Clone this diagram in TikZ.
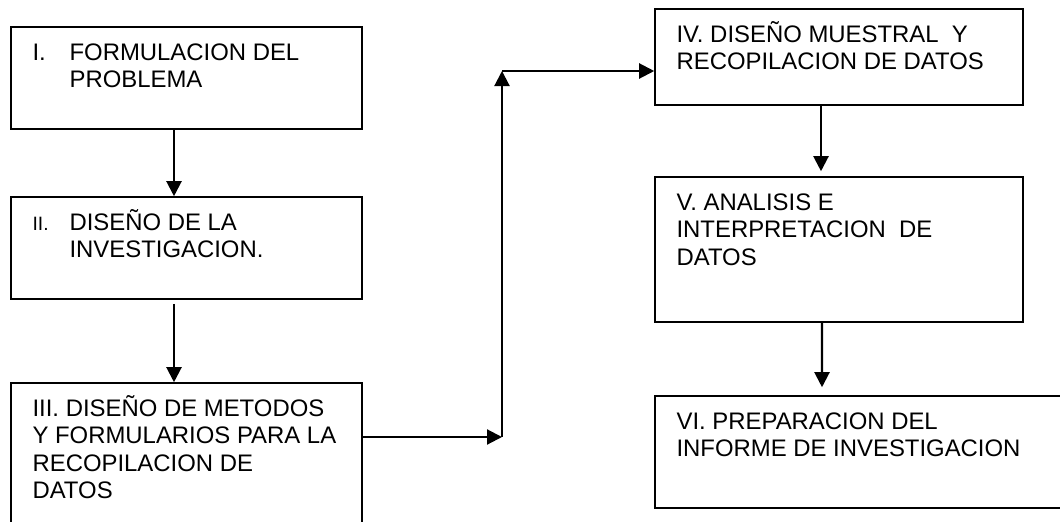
\documentclass[tikz,border=0pt]{standalone}
\usepackage{fontspec}
\setmainfont{Liberation Sans}
\usetikzlibrary{arrows.meta}
\newcommand{\etapa}[1]{\parbox[t]{9cm}{\raggedright #1}}
\tikzstyle{stage}=[rectangle,minimum width=7.02cm,draw=black,line width=0.9pt]
\tikzstyle{stagetext}=[anchor=base west,inner sep=0pt,font=\fontsize{13.6pt}{15.65pt}\selectfont]
\tikzstyle{arrow}=[line width=1.2pt,-{Triangle[length=0.3cm,width=0.3cm]}]

\begin{document}
\begin{tikzpicture}[node distance=3.4cm]
            \useasboundingbox (0,0) rectangle (21.2,-10.42);
            \clip (0,0) rectangle (21.2,-10.42);
            \node (form)[stage,minimum height=2.04cm] at (3.73,-1.56) {};
            \node (dis)[stage,minimum height=2.04cm,below of=form] {};
            \node (met)[stage,minimum height=3.14cm,below of=dis,yshift=-0.87cm] {};
            \node (mues)[stage,minimum width=7.36cm,minimum height=1.92cm] at (16.78,-1.14) {};
            \node (anal)[stage,minimum width=7.36cm,minimum height=2.9cm,below of=mues,yshift=-0.45cm] {};
            \node (prep)[stage,minimum width=8.3cm,minimum height=2.24cm,below of=anal,yshift=-0.65cm,xshift=0.47cm] {};
            % textos
            \node (formtxt)[stagetext] at ([xshift=0.44cm,yshift=-0.68cm]form.north west) {\etapa{\makebox[0.74cm][l]{I.}FORMULACION DEL\\\makebox[0.74cm]{}PROBLEMA}};
            \node (distxt)[stagetext] at ([xshift=0.44cm,yshift=-0.68cm]dis.north west) {\etapa{\makebox[0.74cm][l]{\fontsize{11pt}{13pt}\selectfont II.}DISEÑO DE LA\\\makebox[0.74cm]{}INVESTIGACION.}};
            \node (mettxt)[stagetext] at ([xshift=0.44cm,yshift=-0.68cm]met.north west) {\etapa{III. DISEÑO DE METODOS\\Y FORMULARIOS PARA LA\\RECOPILACION DE\\DATOS}};
            \node (muestxt)[stagetext] at ([xshift=0.44cm,yshift=-0.68cm]mues.north west) {\etapa{IV. DISEÑO MUESTRAL\ \ Y\\RECOPILACION DE DATOS}};
            \node (analtxt)[stagetext] at ([xshift=0.44cm,yshift=-0.68cm]anal.north west) {\etapa{V. ANALISIS E\\INTERPRETACION\ \ DE\\DATOS}};
            \node (preptxt)[stagetext] at ([xshift=0.44cm,yshift=-0.68cm]prep.north west) {\etapa{VI. PREPARACION DEL\\INFORME DE INVESTIGACION}};
            % flechas
            \coordinate (bendlow) at (10.04,-8.74);
            \coordinate (bendup) at (10.04,-1.42);
            \draw [arrow] ([xshift=-0.25cm]form.south) -- ([xshift=-0.25cm]dis.north);
            \draw [arrow,shorten <=0.08cm] ([xshift=-0.25cm]dis.south) -- ([xshift=-0.25cm]met.north);
            \draw [arrow] (met.east |- bendlow) -- (bendlow);
            \draw [arrow] (bendlow) -- (bendup);
            \draw [arrow] (bendup) -- (mues.west |- bendup);
            \draw [arrow,shorten >=0.1cm] ([xshift=-0.36cm]mues.south) -- ([xshift=-0.36cm]anal.north);
            \draw [arrow,shorten >=0.16cm] ([xshift=-0.34cm]anal.south) -- ([xshift=-0.81cm]prep.north);
        \end{tikzpicture}
\end{document}
